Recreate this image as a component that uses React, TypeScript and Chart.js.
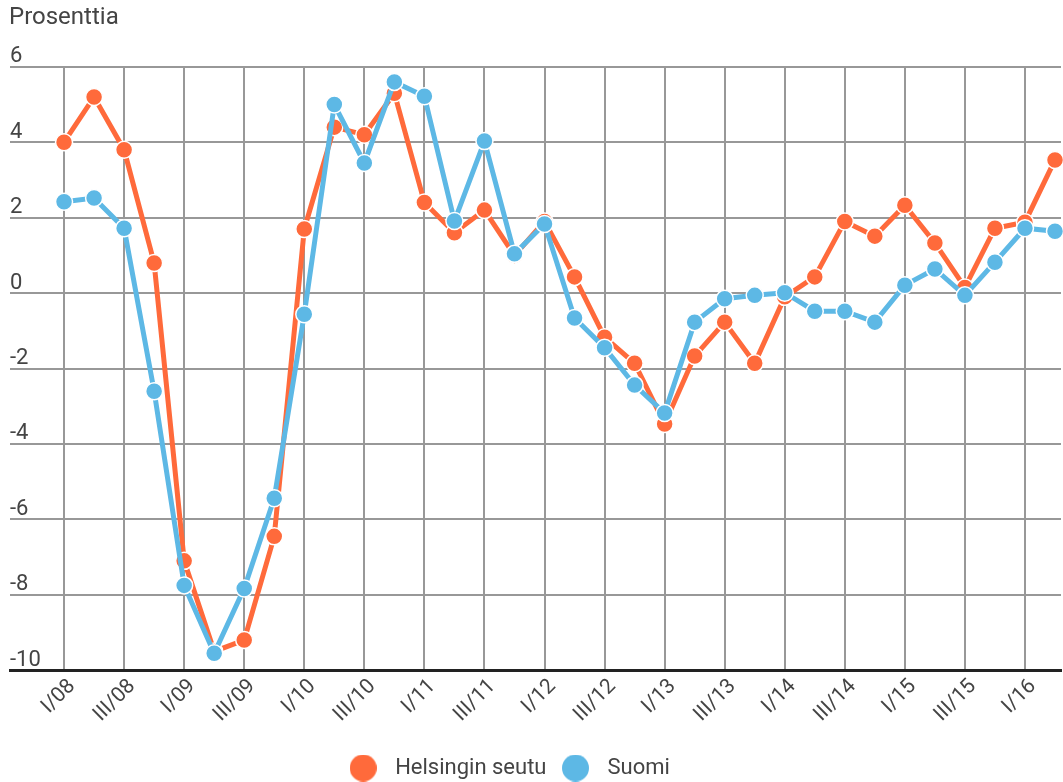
import React, { useEffect, useRef } from 'react';
import { Chart, registerables } from 'chart.js';

Chart.register(...registerables);

const quarters = [
  'I/08', 'II/08', 'III/08', 'IV/08',
  'I/09', 'II/09', 'III/09', 'IV/09',
  'I/10', 'II/10', 'III/10', 'IV/10',
  'I/11', 'II/11', 'III/11', 'IV/11',
  'I/12', 'II/12', 'III/12', 'IV/12',
  'I/13', 'II/13', 'III/13', 'IV/13',
  'I/14', 'II/14', 'III/14', 'IV/14',
  'I/15', 'II/15', 'III/15', 'IV/15',
  'I/16', 'II/16',
];

const helsinginSeutu = [
  4.0, 5.2, 3.8, 0.8,
  -7.1, -9.5, -9.2, -6.45,
  1.7, 4.4, 4.2, 5.3,
  2.4, 1.6, 2.2, 1.0,
  1.9, 0.43, -1.17, -1.86,
  -3.47, -1.67, -0.77, -1.86,
  -0.1, 0.43, 1.9, 1.51,
  2.33, 1.33, 0.15, 1.72,
  1.88, 3.53,
];

const suomi = [
  2.42, 2.52, 1.72, -2.6,
  -7.75, -9.55, -7.83, -5.44,
  -0.56, 5.0, 3.45, 5.6,
  5.22, 1.91, 4.03, 1.04,
  1.83, -0.66, -1.45, -2.44,
  -3.18, -0.77, -0.15, -0.06,
  0.01, -0.48, -0.48, -0.77,
  0.21, 0.64, -0.06, 0.82,
  1.72, 1.64,
];

const yTicks = [-10, -8, -6, -4, -2, 0, 2, 4, 6];

const ORANGE = '#ff6a3b';
const BLUE = '#5db8e5';
const GRID = '#989898';
const TEXT = '#444444';
const FONT = 'Roboto';

function makeDot(color: string, size: number) {
  const c = document.createElement('canvas');
  c.width = size;
  c.height = size;
  const ctx = c.getContext('2d')!;
  ctx.fillStyle = color;
  ctx.beginPath();
  ctx.arc(size / 2, size / 2, size / 2, 0, Math.PI * 2);
  ctx.fill();
  return c;
}

const shiftLegend = {
  id: 'shiftLegend',
  afterLayout(chart: any) {
    const l = chart.legend;
    if (l) {
      l.left -= 34;
      l.right -= 34;
    }
  },
};

export default function App() {
  const ref = useRef<HTMLCanvasElement>(null);

  useEffect(() => {
    const canvas = ref.current!;
    const dots: Record<string, HTMLCanvasElement> = {
      [BLUE]: makeDot(BLUE, 27),
      [ORANGE]: makeDot(ORANGE, 27),
    };
    const chart = new Chart(canvas, {
      type: 'line',
      plugins: [shiftLegend],
      data: {
        datasets: [
          {
            label: 'Suomi',
            data: suomi.map((v, i) => ({ x: i, y: v })),
            borderColor: BLUE,
            backgroundColor: BLUE,
            pointBackgroundColor: BLUE,
            pointBorderColor: '#ffffff',
            pointBorderWidth: 1.5,
            pointRadius: 8.5,
            borderWidth: 5,
            tension: 0,
            clip: false,
          },
          {
            label: 'Helsingin seutu',
            data: helsinginSeutu.map((v, i) => ({ x: i, y: v })),
            borderColor: ORANGE,
            backgroundColor: ORANGE,
            pointBackgroundColor: ORANGE,
            pointBorderColor: '#ffffff',
            pointBorderWidth: 1.5,
            pointRadius: 8.5,
            borderWidth: 5,
            tension: 0,
            clip: false,
          },
        ],
      },
      options: {
        animation: false,
        responsive: false,
        layout: { padding: { left: 9, right: 0, top: 0, bottom: -7 } },
        plugins: {
          tooltip: { enabled: false },
          title: {
            display: true,
            text: 'Prosenttia',
            align: 'start',
            color: TEXT,
            font: { family: FONT, size: 24, weight: 'normal' },
            padding: { top: 4, bottom: 34 },
          },
          legend: {
            position: 'bottom',
            reverse: true,
            labels: {
              usePointStyle: true,
              pointStyleWidth: 42,
              color: TEXT,
              font: { family: FONT, size: 22 },
              padding: 8,
              generateLabels: (ch: any) =>
                Chart.defaults.plugins.legend.labels
                  .generateLabels(ch)
                  .map((item: any) => ({
                    ...item,
                    pointStyle: dots[item.fillStyle as string] || item.pointStyle,
                    lineWidth: 0,
                  })),
            },
          },
        },
        scales: {
          x: {
            type: 'linear',
            min: -1.8,
            max: 33.2,
            afterBuildTicks: (axis: any) => {
              axis.ticks = quarters
                .map((_, i) => i)
                .filter((i) => i % 2 === 0)
                .map((i) => ({ value: i }));
            },
            afterFit: (axis: any) => {
              axis.paddingLeft = 0;
              axis.paddingRight = 0;
              axis.height += 18;
            },
            ticks: {
              stepSize: 2,
              maxTicksLimit: 100,
              autoSkip: false,
              minRotation: 45,
              maxRotation: 45,
              padding: 4,
              labelOffset: 8,
              color: TEXT,
              font: { family: FONT, size: 21 },
              callback: (v: any) => quarters[v as number] ?? '',
            },
            grid: { color: GRID, lineWidth: 2, drawTicks: false },
            border: { display: true, color: '#222222', width: 3 },
          },
          y: {
            type: 'linear',
            min: yTicks[0],
            max: yTicks[yTicks.length - 1],
            afterBuildTicks: (axis: any) => {
              axis.ticks = yTicks.map((v) => ({ value: v }));
            },
            ticks: {
              stepSize: 2,
              mirror: true,
              padding: 0,
              labelOffset: -10,
              color: TEXT,
              font: { family: FONT, size: 22 },
            },
            grid: { color: GRID, lineWidth: 2, drawTicks: false },
            border: { display: false },
          },
        },
      },
    });
    return () => chart.destroy();
  }, []);

  return (
    <div style={{ position: 'absolute', left: 0, top: 0, width: 1063, height: 782, overflow: 'hidden' }}>
      <canvas ref={ref} width={1071} height={782} style={{ display: 'block' }} />
    </div>
  );
}
